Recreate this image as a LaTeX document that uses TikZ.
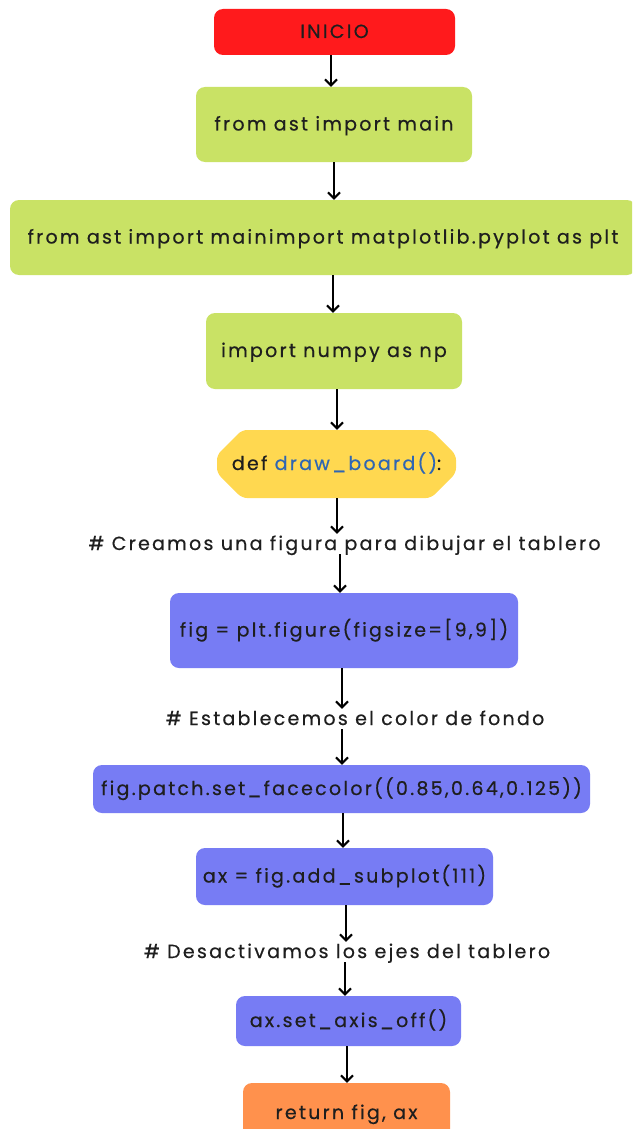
\documentclass[tikz,border=0pt]{standalone}
\usepackage{fontspec}
\setmainfont{Poppins}[LetterSpace=12,FakeBold=0.5]
\usetikzlibrary{arrows.meta,shapes.misc}
\definecolor{cred}{HTML}{FF1A1C}
\definecolor{cgreen}{HTML}{C9E265}
\definecolor{cyellow}{HTML}{FFD850}
\definecolor{cblue}{HTML}{777CF4}
\definecolor{corange}{HTML}{FF914D}
\definecolor{ctext}{HTML}{1E1E1E}
\definecolor{cfunc}{HTML}{2F66B3}
\begin{document}
\begin{tikzpicture}[x=1pt,y=-1pt,
  box/.style={rounded corners=9pt, inner sep=0pt, text height=14pt, text depth=2pt, text=ctext, font=\fontsize{19}{22}\selectfont},
  cmt/.style={inner sep=0pt, anchor=base, text height=16pt, text depth=4pt, text=ctext, font=\fontsize{19}{22}\selectfont},
  arr/.style={line width=2pt, -{Straight Barb[length=6pt,width=12pt,line width=2pt]}}]
\useasboundingbox (0,0) rectangle (632,1129);
\clip (0,0) rectangle (632,1129);
\fill[white] (0,0) rectangle (632,1129);

\node[box, fill=cred, minimum width=241pt, minimum height=46pt] (ini) at (334.5,32) {INICIO};
\node[box, fill=cgreen, minimum width=276pt, minimum height=75pt] (main) at (334,124.5) {from ast import main};
\node[box, fill=cgreen, minimum width=626pt, minimum height=75pt] (mpl) at (323,237.5) {from ast import mainimport matplotlib.pyplot as plt};
\node[box, fill=cgreen, minimum width=256pt, minimum height=76pt] (np) at (334,351) {import numpy as np};
\node[chamfered rectangle, chamfered rectangle xsep=22pt, chamfered rectangle ysep=17pt, rounded corners=5pt, fill=cyellow, inner sep=0pt, minimum width=239pt, minimum height=68pt, text height=14pt, text depth=2pt, text=ctext, font=\fontsize{19}{22}\selectfont] (def) at (336.5,464) {def \textcolor{cfunc}{draw\_board()}:};
\node[cmt] (c1) at (344.5,550) {\# Creamos una figura para dibujar el tablero};
\node[box, fill=cblue, minimum width=348pt, minimum height=75pt] (fig) at (344,630.5) {fig = plt.figure(figsize=[9,9])};
\node[cmt] (c2) at (355,725) {\# Establecemos el color de fondo};
\node[box, fill=cblue, minimum width=497pt, minimum height=48pt] (patch) at (341.5,789) {fig.patch.set\_facecolor((0.85,0.64,0.125))};
\node[box, fill=cblue, minimum width=297pt, minimum height=57pt] (ax) at (344.5,876.5) {ax = fig.add\_subplot(111)};
\node[cmt] (c3) at (347,958) {\# Desactivamos los ejes del tablero};
\node[box, fill=cblue, minimum width=225pt, minimum height=50pt] (off) at (348.5,1021) {ax.set\_axis\_off()};
\node[box, fill=corange, minimum width=207pt, minimum height=60pt] (ret) at (346.5,1113) {return fig, ax};

\draw[arr] (ini.south -| 331,0) -- (331,0 |- main.north);
\draw[arr] (main.south -| 334,0) -- (334,0 |- mpl.north);
\draw[arr] (mpl.south -| 333,0) -- (333,0 |- np.north);
\draw[arr] (np.south -| 337,0) -- (337,0 |- def.north);
\draw[arr] (def.south -| 337,0) -- (337,0 |- c1.north);
\draw[arr] (c1.south -| 340,0) -- (340,0 |- fig.north);
\draw[arr] (fig.south -| 342,0) -- (342,0 |- c2.north);
\draw[arr] (c2.south -| 342,0) -- (342,0 |- patch.north);
\draw[arr] (patch.south -| 343,0) -- (343,0 |- ax.north);
\draw[arr] (ax.south -| 346,0) -- (346,0 |- c3.north);
\draw[arr] (c3.south -| 345,0) -- (345,0 |- off.north);
\draw[arr] (off.south -| 347,0) -- (347,0 |- ret.north);
\end{tikzpicture}
\end{document}
